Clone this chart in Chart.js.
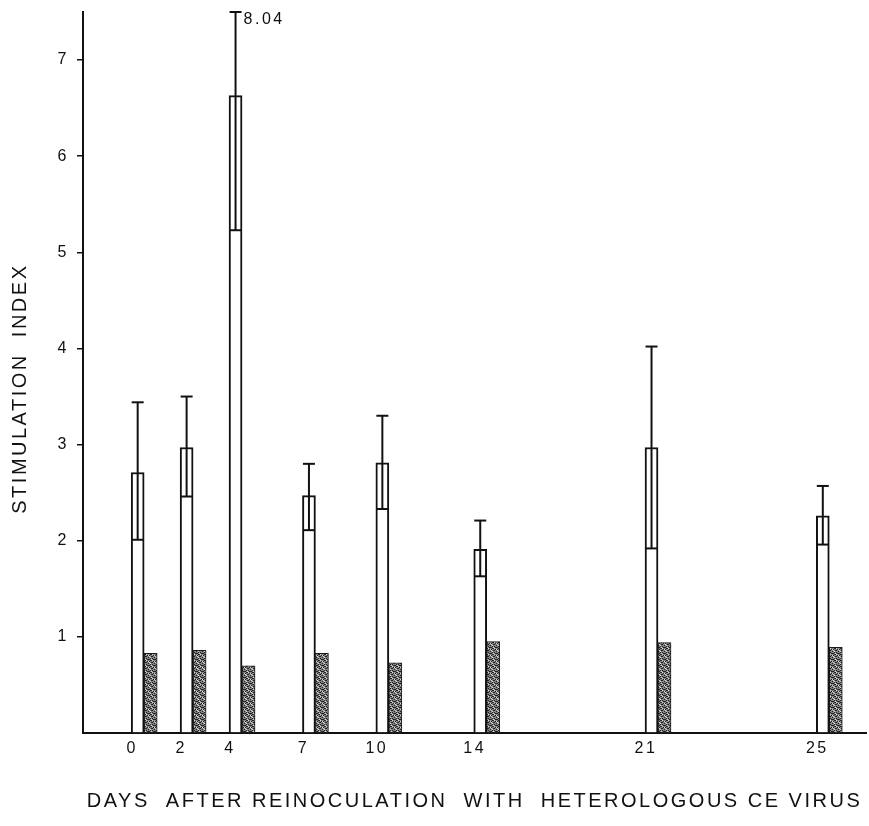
<!DOCTYPE html>
<html>
<head>
<meta charset="utf-8">
<script src="https://cdn.jsdelivr.net/npm/chart.js@4/dist/chart.umd.min.js"></script>
<style>
  html, body { margin: 0; padding: 0; background: #fff; }
  #wrap { width: 869px; height: 826px; position: relative; }
</style>
</head>
<body>
<div id="wrap"><canvas id="chart"></canvas></div>
<script>
// ===== data =====
// x axis slots: the figure spaces the days unevenly, blank slots keep the gaps
const slotLabels = ['', '', '0', '', '2', '', '4', '', '', '7', '', '', '10', '', '', '',
  '14', '', '', '', '', '', '', '21', '', '', '', '', '', '', '25', ''];
const days = ['0', '2', '4', '7', '10', '14', '21', '25'];
const stimMean = [2.71, 2.97, 6.63, 2.47, 2.81, 1.91, 2.97, 2.26];
const stimLow = [2.01, 2.46, 5.23, 2.11, 2.33, 1.63, 1.92, 1.96];
const stimHigh = [3.44, 3.50, 8.04, 2.80, 3.30, 2.21, 4.02, 2.57];
const controlMean = [0.83, 0.86, 0.70, 0.83, 0.73, 0.95, 0.94, 0.89];
const yTicks = [1, 2, 3, 4, 5, 6, 7];
const yMax = 7.5;

// ===== stipple fill for the control bars =====
function makeStipple() {
  const c = document.createElement('canvas');
  c.width = 6; c.height = 6;
  const g = c.getContext('2d');
  g.fillStyle = '#858585';
  g.fillRect(0, 0, 6, 6);
  g.fillStyle = '#222';
  const dots = [[0,0],[3,1],[1,2],[4,3],[2,4],[5,5],[0,4],[3,5],[5,1],[2,2],[4,5],[1,0]];
  dots.forEach(d => g.fillRect(d[0], d[1], 1, 1));
  g.fillStyle = '#d8d8d8';
  [[2,0],[5,2],[1,5],[4,1],[0,3]].forEach(d => g.fillRect(d[0], d[1], 1, 1));
  return g.createPattern(c, 'repeat');
}

// ===== spaced lettering like the original typesetting =====
const letterSpace = {
  id: 'letterSpace',
  beforeDraw(chart) { chart.ctx.letterSpacing = '2.5px'; },
  afterDraw(chart) { chart.ctx.letterSpacing = '0px'; }
};

// ===== error bars drawn through the scales =====
const errorBars = {
  id: 'errorBars',
  afterDatasetsDraw(chart) {
    const ctx = chart.ctx;
    const y = chart.scales.y;
    const meta = chart.getDatasetMeta(0);
    ctx.save();
    ctx.strokeStyle = '#111';
    ctx.lineWidth = 2;
    meta.data.forEach((bar, i) => {
      const half = bar.width / 2;
      const yLow = y.getPixelForValue(stimLow[i]);
      const clipped = stimHigh[i] > yMax;
      const yHigh = y.getPixelForValue(Math.min(stimHigh[i], yMax));
      // lower limit across the bar
      ctx.beginPath();
      ctx.moveTo(bar.x - half + 1, yLow);
      ctx.lineTo(bar.x + half - 1, yLow);
      ctx.stroke();
      // stem up through the top of the bar
      ctx.beginPath();
      ctx.moveTo(bar.x, yLow);
      ctx.lineTo(bar.x, yHigh);
      ctx.stroke();
      // cap
      ctx.beginPath();
      ctx.moveTo(bar.x - 6, yHigh);
      ctx.lineTo(bar.x + 6, yHigh);
      ctx.stroke();
      if (clipped) {
        ctx.fillStyle = '#111';
        ctx.font = '16px "Liberation Sans", sans-serif';
        ctx.textBaseline = 'middle';
        ctx.fillText(stimHigh[i].toFixed(2), bar.x + 8, yHigh + 8);
      }
    });
    ctx.restore();
  }
};

function initChart() {
  const ctx = document.getElementById('chart');
  return new Chart(ctx, {
    type: 'bar',
    data: {
      labels: slotLabels,
      datasets: [{
        label: 'stimulation index',
        data: days.map((d, i) => ({ x: d, y: stimMean[i] })),
        backgroundColor: '#ffffff',
        borderColor: '#111',
        borderWidth: 2,
        barThickness: 13
      }, {
        label: 'control',
        data: days.map((d, i) => ({ x: d, y: controlMean[i] })),
        backgroundColor: makeStipple(),
        borderColor: '#1a1a1a',
        borderWidth: 1,
        barThickness: 13
      }]
    },
    options: {
      responsive: true,
      maintainAspectRatio: false,
      animation: false,
      layout: { padding: { top: 12, right: 3, bottom: 0, left: 0 } },
      plugins: {
        legend: { display: false },
        tooltip: { enabled: false }
      },
      scales: {
        x: {
          offset: true,
          grid: { display: true, drawOnChartArea: false, drawTicks: false },
          border: { display: true, color: '#111', width: 2 },
          ticks: {
            autoSkip: false,
            maxRotation: 0,
            labelOffset: -12,
            padding: 6,
            color: '#111',
            font: { family: '"Liberation Sans", sans-serif', size: 16 }
          },
          title: {
            display: true,
            text: 'DAYS  AFTER REINOCULATION  WITH  HETEROLOGOUS CE VIRUS',
            color: '#111',
            font: { family: '"Liberation Sans", sans-serif', size: 20 },
            padding: { top: 0, bottom: 13 }
          },
          afterFit: s => { s.height = 93; }
        },
        y: {
          min: 0,
          max: yMax,
          afterBuildTicks: s => { s.ticks = [0].concat(yTicks).concat([yMax]).map(v => ({ value: v })); },
          grid: {
            drawOnChartArea: false,
            tickLength: 6,
            color: c => (yTicks.includes(c.tick.value) ? '#111' : 'rgba(0,0,0,0)'),
            lineWidth: 1.5
          },
          border: { display: true, color: '#111', width: 2 },
          ticks: {
            padding: 8,
            color: '#111',
            font: { family: '"Liberation Sans", sans-serif', size: 16 },
            callback: v => (yTicks.includes(v) ? v : '')
          },
          title: {
            display: true,
            text: 'STIMULATION  INDEX    ',
            color: '#111',
            font: { family: '"Liberation Sans", sans-serif', size: 20 },
            padding: { top: 8, bottom: 0 }
          },
          afterFit: s => { s.width = 83; s.paddingTop = 0; s.paddingBottom = 0; }
        }
      }
    },
    plugins: [letterSpace, errorBars]
  });
}

window.onload = initChart;
</script>
</body>
</html>
